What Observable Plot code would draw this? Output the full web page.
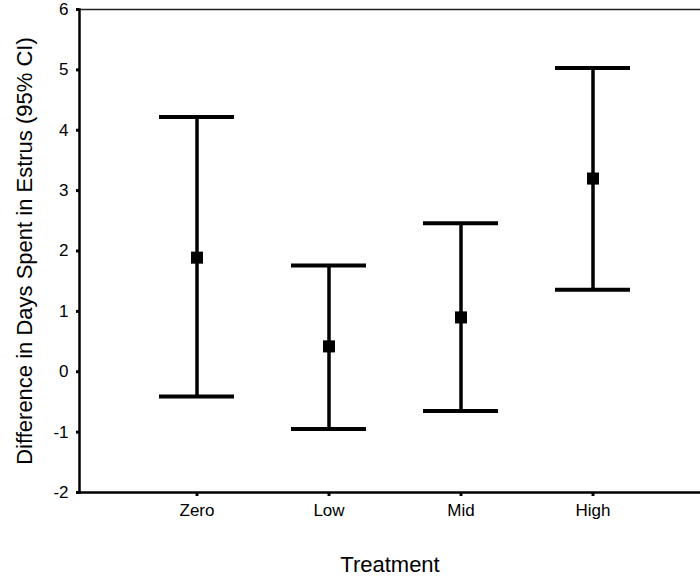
<!DOCTYPE html>
<html>
<head>
<meta charset="utf-8">
<script src="https://cdn.jsdelivr.net/npm/d3@7"></script>
<script src="https://cdn.jsdelivr.net/npm/@observablehq/plot@0.6"></script>
<style>
  html, body { margin: 0; padding: 0; background: #fff; }
</style>
</head>
<body>
<div id="chart"></div>
<script>
const treatments = ["Zero", "Low", "Mid", "High"];
const means = [1.89, 0.42, 0.90, 3.20];
const lower = [-0.41, -0.95, -0.65, 1.36];
const upper = [4.22, 1.76, 2.46, 5.03];
const yTicks = [-2, -1, 0, 1, 2, 3, 4, 5, 6];
const yTitle = "Difference in Days Spent in Estrus (95% CI)";
const xTitle = "Treatment";

const data = treatments.map((t, i) => ({t, m: means[i], lo: lower[i], hi: upper[i]}));

const chart = Plot.plot({
  width: 700,
  height: 579,
  marginLeft: 79,
  marginRight: 0,
  marginTop: 9,
  marginBottom: 87,
  style: {fontFamily: "'Liberation Sans', Arial, sans-serif", fontSize: "17px", color: "#000", background: "#fff"},
  x: {type: "band", domain: treatments, paddingInner: 0.433, paddingOuter: 0.567, align: 0.536},
  y: {domain: [-2, 6]},
  marks: [
    Plot.frame({anchor: "top", strokeWidth: 1.5, stroke: "#222"}),
    Plot.frame({anchor: "left", strokeWidth: 2.5, stroke: "#000"}),
    Plot.frame({anchor: "bottom", strokeWidth: 2.5, stroke: "#000"}),
    Plot.axisY({ticks: yTicks, tickFormat: d => String(d), tickSize: 3, strokeWidth: 3, tickPadding: 8, label: null, fill: "#000"}),
    Plot.axisX({tickSize: 4, strokeWidth: 3, tickPadding: 7, label: null, fill: "#000"}),
    Plot.ruleX(data, {x: "t", y1: "lo", y2: "hi", strokeWidth: 3.5, stroke: "#000"}),
    Plot.tickY(data, {x: "t", y: "hi", strokeWidth: 4, stroke: "#000"}),
    Plot.tickY(data, {x: "t", y: "lo", strokeWidth: 4, stroke: "#000"}),
    Plot.dot(data, {x: "t", y: "m", symbol: "square", r: 6.8, fill: "#000", stroke: null}),
    Plot.text([xTitle], {frameAnchor: "bottom", dy: 64, lineAnchor: "top", fontSize: 22, fill: "#000"}),
    Plot.text([yTitle], {frameAnchor: "left", rotate: -90, dx: -55, lineAnchor: "middle", textAnchor: "middle", fontSize: 22, fill: "#000"})
  ]
});
document.getElementById("chart").appendChild(chart);
</script>
</body>
</html>
